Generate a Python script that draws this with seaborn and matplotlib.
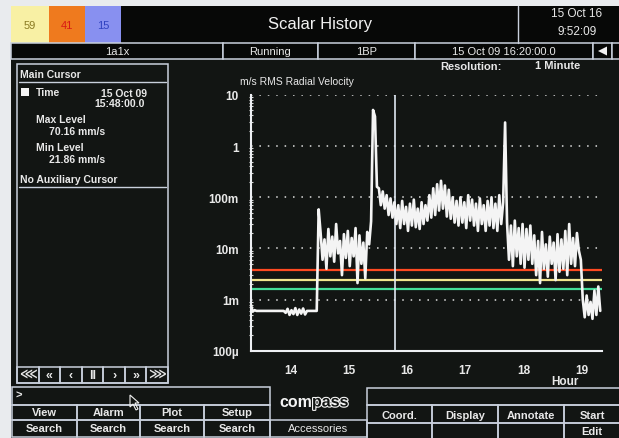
import numpy as np
import pandas as pd
import seaborn as sns
import matplotlib.pyplot as plt
from matplotlib.patches import Rectangle, Polygon
import matplotlib.patheffects as pe

# RMS radial velocity history (mm/s), one value every 2 minutes
start_hour = 13.32
step_minutes = 2
rms_mm_s = [
    0.82, 0.58, 0.62, 0.6, 0.6, 0.6, 0.6, 0.6, 0.6, 0.6, 0.6, 0.6, 0.6, 0.6, 0.6, 0.6, 0.6, 0.6,
    0.55, 0.66, 0.5, 0.62, 0.52, 0.68, 0.5, 0.64, 0.53, 0.67, 0.51, 0.6,
    0.6, 0.6, 0.6, 0.6, 0.6,
    58,
    20, 6, 15, 4.0, 24, 7, 17, 5.5, 30, 8, 14, 3.0, 19, 6.5, 22, 4.5, 16, 7, 25, 2.1,
    18, 5, 13, 2.6, 21, 12, 34,
    5100, 3800, 160,
    150, 70, 130, 60, 110, 45, 95, 40, 80, 30,
    70, 25, 85, 30, 65, 22, 75, 28, 90, 26, 60, 24, 80, 30, 70,
    35, 110, 40, 150, 45, 180, 55, 210, 60, 170, 42, 140, 38, 100, 32,
    85, 28, 100, 32, 80, 25, 110, 35, 90, 28, 75, 22, 95, 30, 70, 22, 85, 28, 100, 25, 75, 22, 110, 30, 80,
    2900,
    32, 6, 28, 4.5, 35, 7, 25, 5, 30, 4.2, 24, 6, 28, 5,
    18, 3.0, 14, 2.1, 21, 4.0, 12, 2.8, 17, 5.0, 13, 2.4, 19, 3.5, 15,
    4.0, 22, 3.0, 30, 5.0, 16, 4.5, 20, 9,
    6,
    1.0,
    0.45, 1.2, 0.5, 0.9, 0.42, 1.5, 0.5, 1.8, 0.6,
]

alarm_levels = [3.8e-3, 2.4e-3, 1.6e-3]
alarm_colors = ['#ff4a22', '#f2e58e', '#45dc9a']
cursor_hour = 15.8

y_ticks = [1e-4, 1e-3, 1e-2, 1e-1, 1, 10]
y_tick_labels = ['100µ', '1m', '10m', '100m', '1', '10']
x_ticks = [14, 15, 16, 17, 18, 19]

status_cells = ['1a1x', 'Running', '1BP', '15 Oct 09 16:20:00.0']
left_buttons = [('View', 'Search'), ('Alarm', 'Search'), ('Plot', 'Search'), ('Setup', 'Search')]
right_buttons = [('Coord.', ''), ('Display', ''), ('Annotate', ''), ('Start', 'Edit')]
nav_buttons = ['⋘', '«', '‹', 'II', '›', '»', '⋙']

BG = '#121513'
EDGE = '#c9d0dc'
TXT = '#e8e8e8'

sns.set_style('dark', {'axes.facecolor': BG, 'figure.facecolor': BG})
plt.rcParams['font.family'] = ['Liberation Sans', 'DejaVu Sans']

df = pd.DataFrame({'rms': np.array(rms_mm_s) / 1000.0})
df['hour'] = start_hour + np.arange(len(df)) * step_minutes / 60.0

fig = plt.figure(figsize=(6.19, 4.39), dpi=100)

# screen furniture drawn in pixel coordinates
bg = fig.add_axes([0, 0, 1, 1], zorder=0)
bg.set_xlim(0, 619)
bg.set_ylim(439, 0)
bg.axis('off')


def cell(x0, y0, x1, y1, face='none', edge=EDGE, lw=1.1):
    bg.add_patch(Rectangle((x0, y0), x1 - x0, y1 - y0, facecolor=face,
                           edgecolor=edge, lw=lw))


def label(x, y, s, ha='center', size=8, color=TXT, weight='bold'):
    bg.text(x, y, s, ha=ha, va='center', fontsize=size, color=color,
            fontweight=weight)


# white margins of the photo
bg.add_patch(Rectangle((0, 0), 619, 6.5, facecolor='#e9ebee', lw=0))
bg.add_patch(Rectangle((0, 0), 11, 439, facecolor='#e9ebee', lw=0))

# top bar
cell(11, 7, 49, 44, face='#f8f0a4', edge='none')
cell(49, 7, 85, 44, face='#ef7a1e', edge='none')
cell(85, 7, 121, 44, face='#8890f0', edge='none')
label(30, 26, '59', color='#8a7a22', weight='normal', size=8)
label(67, 26, '41', color='#d81a14', weight='normal', size=8)
label(103, 26, '15', color='#3042c0', weight='normal', size=8)
cell(121, 7, 518, 44, face='#070807', edge='none')
cell(518, 7, 619, 44, face='#070807', edge='none')
bg.plot([518, 518], [7, 44], color=EDGE, lw=1)
label(320, 25, 'Scalar History', size=12, weight='normal', color='#f2f2f2')
label(602, 14, '15 Oct 16', ha='right', size=8.5, weight='normal')
label(597, 32, '9:52:09', ha='right', size=8.5, weight='normal')

# status row
bounds = [11, 223, 318, 415, 593]
for (x0, x1), txt in zip(zip(bounds[:-1], bounds[1:]), status_cells):
    cell(x0, 44, x1, 60, face='#070807')
    label((x0 + x1) / 2, 52, txt, size=8, weight='normal')
cell(593, 44, 612, 60, face='#070807')
cell(612, 44, 620, 60, face='#070807')
bg.add_patch(Polygon([[598, 52], [607, 47.5], [607, 56.5]], facecolor='#f2f2f2', lw=0))

label(440, 67, 'Resolution:', ha='left', size=8)
label(535, 66, '1 Minute', ha='left', size=8)
label(240, 82, 'm/s RMS Radial Velocity', ha='left', size=7.5, weight='normal')

# cursor panel
cell(17, 65, 168, 384)
label(20, 75, 'Main Cursor', ha='left', size=7.5)
bg.plot([19, 166], [83, 83], color=EDGE, lw=1)
bg.add_patch(Rectangle((21, 89), 8, 8, facecolor='#f4f4f4', lw=0))
label(36, 93, 'Time', ha='left', size=7.5)
label(147, 94, '15 Oct 09', ha='right', size=7.5)
label(145, 104, '15:48:00.0', ha='right', size=7.5)
label(36, 120, 'Max Level', ha='left', size=7.5)
label(49, 132, '70.16 mm/s', ha='left', size=7.5)
label(36, 148, 'Min Level', ha='left', size=7.5)
label(49, 160, '21.86 mm/s', ha='left', size=7.5)
label(20, 180, 'No Auxiliary Cursor', ha='left', size=7.5)
bg.plot([19, 166], [188, 188], color=EDGE, lw=1)
nav_w = (168 - 17) / len(nav_buttons)
for i, s in enumerate(nav_buttons):
    cell(17 + i * nav_w, 368, 17 + (i + 1) * nav_w, 384)
    label(17 + (i + 0.5) * nav_w, 376, s, size=9)

# bottom command buttons
cell(12, 388, 270, 406)
label(15, 396, '>', ha='left', size=8)
cols = [12, 77, 140, 204, 270]
for (x0, x1), (top, bot) in zip(zip(cols[:-1], cols[1:]), left_buttons):
    cell(x0, 406, x1, 421)
    cell(x0, 421, x1, 438)
    label((x0 + x1) / 2, 413.5, top, size=8)
    label((x0 + x1) / 2, 429.5, bot, size=8)
cell(270, 421, 367, 438)
label(318, 429.5, 'Accessories', size=8, weight='normal')
bg.text(312, 403, 'com', ha='right', va='center', fontsize=11.5,
        fontweight='heavy', color='#f4f4f4')
bg.text(312, 403, 'pass', ha='left', va='center', fontsize=11.5,
        fontweight='heavy', color=BG,
        path_effects=[pe.withStroke(linewidth=1.6, foreground='#f4f4f4')])
bg.add_patch(Polygon([[130, 396], [130, 408], [133, 405], [136, 411], [138, 410],
                      [135, 404], [139, 404]], facecolor='none', edgecolor='#f0f0f0', lw=0.8))

cell(367, 389, 620, 406)
rcols = [367, 432, 498, 564, 620]
for (x0, x1), (top, bot) in zip(zip(rcols[:-1], rcols[1:]), right_buttons):
    cell(x0, 406, x1, 424)
    cell(x0, 424, x1, 440)
    label((x0 + x1) / 2 if x1 < 600 else 592, 416, top, size=8)
    if bot:
        label(592, 432, bot, size=8)

# history plot
ax = fig.add_axes([250.7 / 619, 87.3 / 439, 351.3 / 619, 255.7 / 439], zorder=1)
ax.set_facecolor('none')
ax.set_yscale('log')
for lvl, col in zip(alarm_levels, alarm_colors):
    ax.axhline(lvl, color=col, lw=1.6, zorder=2)
ax.axvline(cursor_hour, color='#dfe8f2', lw=1.2, zorder=2)
sns.lineplot(data=df, x='hour', y='rms', ax=ax, color='#f4f4f4', lw=1.9,
             estimator=None, zorder=3)

ax.set_xlim(start_hour, 19.35)
ax.set_ylim(1e-4, 10)
ax.set_yticks(y_ticks)
ax.set_yticklabels(y_tick_labels)
ax.set_xticks(x_ticks)
ax.set_xticklabels([str(t) for t in x_ticks])
ax.set_xlabel('')
ax.set_ylabel('')
ax.grid(False)
for t in y_ticks[1:]:
    ax.axhline(t, color='#e0e0e0', lw=1.1, ls=(0, (1, 4.5)), zorder=1)

for side in ['top', 'right']:
    ax.spines[side].set_visible(False)
for side in ['left', 'bottom']:
    ax.spines[side].set_visible(True)
    ax.spines[side].set_color('#eef0f4')
    ax.spines[side].set_linewidth(1.5)
ax.tick_params(axis='both', which='major', colors='#eef0f4', labelcolor=TXT,
               labelsize=8.5, direction='inout', length=5, width=1.2)
ax.tick_params(axis='y', which='minor', colors='#d8d8d8', direction='inout',
               length=3, width=0.8, left=True)
ax.tick_params(axis='y', which='major', pad=6)
ax.tick_params(axis='x', which='major', pad=7)
for lab in ax.get_xticklabels() + ax.get_yticklabels():
    lab.set_fontweight('bold')
bg.text(565, 382, 'Hour', ha='center', va='center', fontsize=8.5,
        fontweight='bold', color=TXT)

plt.savefig('out.png', dpi=100, facecolor=BG)
